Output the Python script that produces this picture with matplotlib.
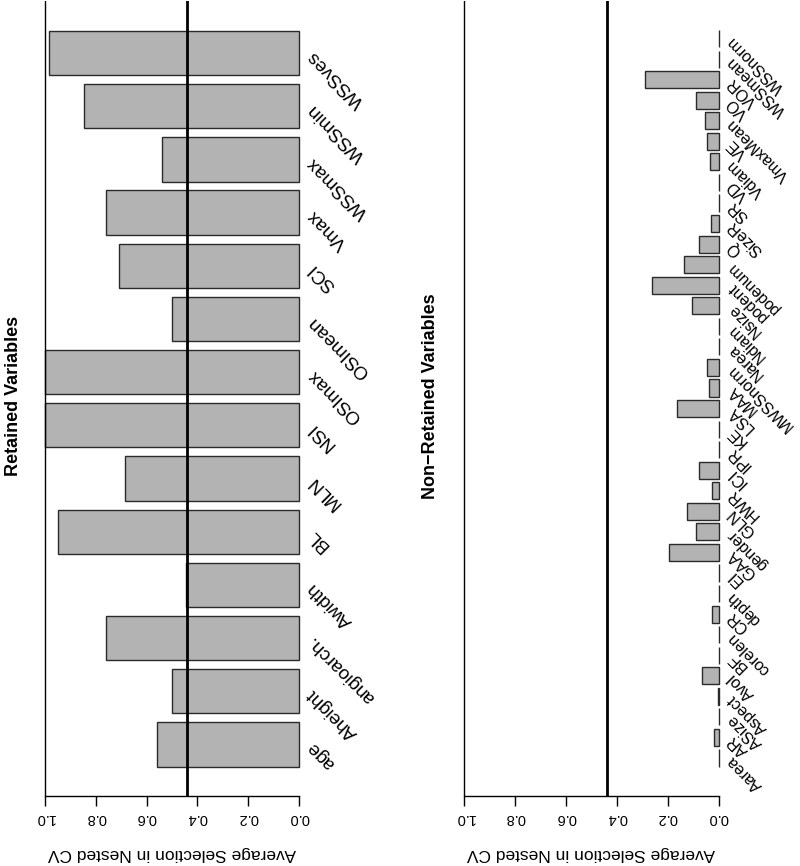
#!/usr/bin/python3

import numpy as np
import matplotlib
matplotlib.use('Agg')
import matplotlib.pyplot as plt


# retained variables, listed bottom to top
retained_names = ['age', 'Aheight', 'angioarch.', 'Awidth', 'BL', 'MLN', 'NSI',
	'OSImax', 'OSImean', 'SCI', 'Vmax', 'WSSmax', 'WSSmin', 'WSSves']
retained_vals = [0.56, 0.50, 0.76, 0.445, 0.95, 0.685, 1.0,
	1.0, 0.50, 0.71, 0.76, 0.54, 0.845, 0.985]

# non-retained variables, listed bottom to top
nonret_names = ['Aarea', 'AR', 'ASize', 'Aspect', 'Avol', 'BF', 'corelen', 'CR',
	'depth', 'EI', 'GAA', 'gender', 'GLN', 'HWR', 'ICI', 'IPR', 'KE', 'LSA', 'MAA',
	'MWSSnorm', 'Narea', 'Ndiam', 'Nsize', 'podent', 'podenum', 'Q', 'SizeR', 'SR',
	'VD', 'Vdiam', 'VE', 'VmaxMean', 'VO', 'VOR', 'WSSmean', 'WSSnorm']
nonret_vals = [0.0, 0.017, 0.0, 0.003, 0.066, 0.0, 0.0, 0.026,
	0.0, 0.0, 0.195, 0.088, 0.125, 0.026, 0.075, 0.0, 0.0, 0.162, 0.036,
	0.046, 0.0, 0.0, 0.103, 0.26, 0.135, 0.075, 0.031, 0.0,
	0.0, 0.033, 0.046, 0.055, 0.088, 0.29, 0.0, 0.0]

threshold = 0.44
ticks = [0.0, 0.2, 0.4, 0.6, 0.8, 1.0]

W, H = 800, 866


def px_axes(x0, x1, y0, y1):
	''' pixel box (top-left origin) -> figure fraction rect '''
	return [x0 / W, 1 - y1 / H, (x1 - x0) / W, (y1 - y0) / H]


def draw_panel(fig, rect, names, vals, title, title_x, label_size):
	ax = fig.add_axes(rect)
	n = len(names)
	pos = 0.7 + 1.2 * np.arange(n)
	ax.barh(pos, vals, height=1.0, color='#b3b3b3', edgecolor='#2a2a2a', linewidth=1.0)

	# R style extents
	lo, hi = 0.2, 1.2 * n
	ext = 0.04 * (hi - lo)
	ax.set_ylim(lo - ext, hi + ext)
	ax.set_xlim(1.04, -0.04)

	ax.axvline(threshold, color='black', linewidth=2.0)
	ax.axvline(1.0, color='black', linewidth=1.0)

	for s in ['top', 'left', 'right']:
		ax.spines[s].set_visible(False)
	ax.spines['bottom'].set_bounds(0, 1)
	ax.spines['bottom'].set_linewidth(1.0)
	ax.set_yticks([])
	ax.set_xticks(ticks)
	ax.set_xticklabels(['%.1f' % t for t in ticks], rotation=180, fontsize=10.5)
	ax.tick_params(axis='x', direction='out', length=7, width=1, pad=4)
	ax.set_xlabel('Average Selection in Nested CV', rotation=180, fontsize=12.5, labelpad=15)

	for p, name in zip(pos, names):
		ax.text(-0.045, p, name, rotation=135, rotation_mode='anchor',
			ha='right', va='center', fontsize=label_size, clip_on=False)

	fig.text(title_x / W, 1 - 396 / H, title, rotation=90, fontsize=13,
		fontweight='bold', ha='center', va='center')
	return ax


def main():
	plt.rcParams['font.family'] = ['Liberation Sans', 'DejaVu Sans']
	fig = plt.figure(figsize=(W / 100, H / 100), dpi=100)

	draw_panel(fig, px_axes(34.8, 309.2, 1.4, 796), retained_names, retained_vals,
		'Retained Variables', 14, 13.5)
	draw_panel(fig, px_axes(454.1, 728.7, 0.5, 796), nonret_names, nonret_vals,
		'Non\u2212Retained Variables', 431, 11.5)

	plt.savefig('out.png', dpi=100)
	plt.close()
	return


if __name__ == '__main__':
	main()
